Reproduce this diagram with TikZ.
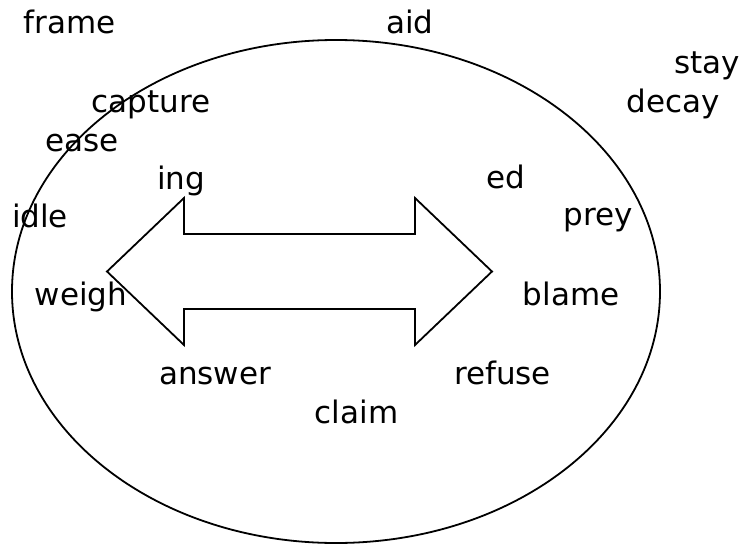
\documentclass[tikz,border=0pt]{standalone}
\usepackage{fontspec}
\setmainfont{DejaVu Sans}
\begin{document}
\begin{tikzpicture}[x=1pt,y=-1pt,
  word/.style={anchor=base,inner sep=0pt,font=\fontsize{31}{36}\selectfont},
  outline/.style={draw=black,line width=1.8pt}]
\useasboundingbox (0,0) rectangle (745,544);
\draw[outline] (336,291.5) ellipse [x radius=324, y radius=251.5];
\draw[outline,line join=miter] (107,271.5) -- (184,198) -- (184,234) -- (415,234) -- (415,198)
  -- (492,271.5) -- (415,345) -- (415,309) -- (184,309) -- (184,345) -- cycle;
\node[word] (frame) at (69.5,33) {frame};
\node[word] (aid) at (410,33) {aid};
\node[word] (stay) at (707,73) {stay};
\node[word] (decay) at (673.5,112) {decay};
\node[word] (capture) at (151,112) {capture};
\node[word] (ease) at (82,151) {ease};
\node[word] (ing) at (181,189) {ing};
\node[word] (ed) at (506,188) {ed};
\node[word] (idle) at (40,227) {idle};
\node[word] (prey) at (598,225) {prey};
\node[word] (weigh) at (81,305) {weigh};
\node[word] (blame) at (571,305) {blame};
\node[word] (answer) at (215,384) {answer};
\node[word] (refuse) at (502.5,384) {refuse};
\node[word] (claim) at (356.5,423) {claim};
\end{tikzpicture}
\end{document}
